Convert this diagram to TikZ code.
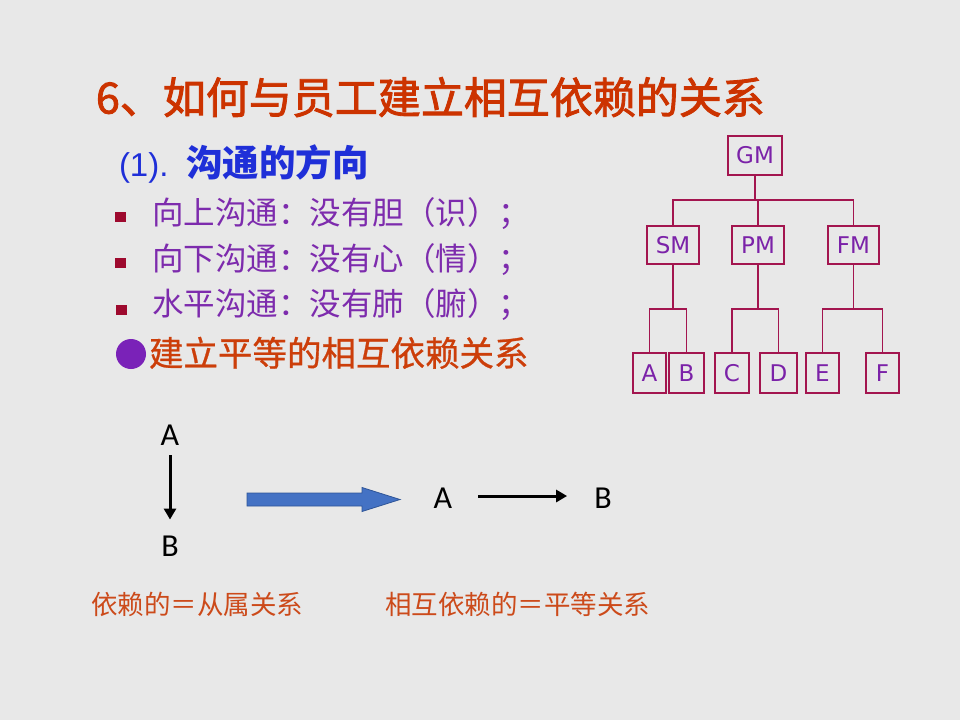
\documentclass[tikz,border=0pt]{standalone}
\usepackage{fontspec}
\setmainfont{Noto Sans CJK SC}
\newfontfamily\titlefont[FakeBold=2]{Noto Sans CJK SC}
\newfontfamily\midfont[FakeBold=0.8]{Noto Sans CJK SC}
\newfontfamily\orgfont{DejaVu Sans}
\newfontfamily\abfont{Carlito}
\newfontfamily\arialfont{Liberation Sans}
\usetikzlibrary{arrows.meta}
\definecolor{bg}{HTML}{E8E8E8}
\definecolor{titlec}{HTML}{CC3300}
\definecolor{subc}{HTML}{1F2FD8}
\definecolor{purp}{HTML}{7D2BAD}
\definecolor{sqc}{HTML}{9E0A2E}
\definecolor{circc}{HTML}{7A22B8}
\definecolor{orangec}{HTML}{CC3E0A}
\definecolor{orgline}{HTML}{A3154F}
\definecolor{orgtext}{HTML}{7B22A8}
\definecolor{bottomc}{HTML}{CC4A1A}
\definecolor{blockfill}{HTML}{4472C4}
\definecolor{blockline}{HTML}{2F5597}
\begin{document}
\begin{tikzpicture}[x=1pt,y=-1pt,
  txt/.style={anchor=base west,inner sep=0pt,outer sep=0pt},
  orgbox/.style={draw=orgline,line width=1.3pt,inner sep=0pt,text=orgtext,
    font=\orgfont\fontsize{23}{23}\selectfont,minimum height=38pt},
  orgconn/.style={draw=orgline,line width=1.3pt},
  ab/.style={inner sep=0pt,font=\abfont\fontsize{32}{32}\selectfont,text=black},
  arr/.style={draw=black,line width=3pt,-{Triangle[length=11pt,width=12pt]}},
  bullet/.style={fill=sqc}
]
\fill[bg] (0,0) rectangle (960,720);
\useasboundingbox (0,0) rectangle (960,720);

% title
\node[txt,text=titlec,font=\titlefont\fontsize{43}{43}\selectfont] (title) at (96,113.5) {6、如何与员工建立相互依赖的关系};

% subtitle
\node[txt,text=subc,font=\arialfont\fontsize{33}{33}\selectfont] (sub1) at (119,176) {(1).};
\node[txt,text=subc,font=\fontsize{36.5}{36.5}\selectfont\bfseries] (sub2) at (186,176) {沟通的方向};

% bullets
\fill[bullet] (115,212) rectangle (126,222);
\fill[bullet] (115,258) rectangle (126,268);
\fill[bullet] (116,305) rectangle (127,315);
\node[txt,text=purp,font=\fontsize{31.5}{31.5}\selectfont] (b1) at (152,224) {向上沟通：没有胆（识）；};
\node[txt,text=purp,font=\fontsize{31.5}{31.5}\selectfont] (b2) at (152,270) {向下沟通：没有心（情）；};
\node[txt,text=purp,font=\fontsize{31.5}{31.5}\selectfont] (b3) at (152,315) {水平沟通：没有肺（腑）；};

\fill[circc] (131,354) circle (15);
\node[txt,text=orangec,font=\midfont\fontsize{34.5}{34.5}\selectfont] (b4) at (149,366) {建立平等的相互依赖关系};

% org chart
\node[orgbox,minimum width=54pt,minimum height=39pt] (GM) at (755,155.5) {GM};
\node[orgbox,minimum width=52pt] (SM) at (673,245) {SM};
\node[orgbox,minimum width=52pt] (PM) at (758,245) {PM};
\node[orgbox,minimum width=51pt] (FM) at (853.5,245) {FM};
\node[orgbox,minimum width=33pt,minimum height=40pt] (A) at (649.5,373) {A};
\node[orgbox,minimum width=35pt,minimum height=40pt] (B) at (686.5,373) {B};
\node[orgbox,minimum width=34pt,minimum height=40pt] (C) at (732,373) {C};
\node[orgbox,minimum width=37pt,minimum height=40pt] (D) at (778.5,373) {D};
\node[orgbox,minimum width=33pt,minimum height=40pt] (E) at (822.5,373) {E};
\node[orgbox,minimum width=33pt,minimum height=40pt] (F) at (882.5,373) {F};
\coordinate (bar0) at (0,200);
\coordinate (bar1) at (0,309);
\draw[orgconn] (GM.south) -- (GM.south |- bar0);
\draw[orgconn] (SM.north) -- (SM.north |- bar0) -| (FM.north);
\draw[orgconn] (PM.north) -- (PM.north |- bar0);
\draw[orgconn] (SM.south) -- (SM.south |- bar1);
\draw[orgconn] (A.north) |- (SM.south |- bar1) -| (B.north);
\draw[orgconn] (PM.south) -- (PM.south |- bar1);
\draw[orgconn] (C.north) |- (PM.south |- bar1) -| (D.north);
\draw[orgconn] (FM.south) -- (FM.south |- bar1);
\draw[orgconn] (E.north) |- (FM.south |- bar1) -| (F.north);

% bottom diagram
\node[ab] (A1) at (170,435) {A};
\node[ab] (B1) at (170,546) {B};
\draw[arr,shorten <=10pt,shorten >=16pt] (A1.south) -- (B1.north);

\fill[blockfill,draw=blockline,line width=0.8pt]
  (247,493) -- (362,493) -- (362,487.5) -- (400,499.5) -- (362,511.5) -- (362,506) -- (247,506) -- cycle;

\node[ab] (A2) at (443,498) {A};
\node[ab] (B2) at (603,498) {B};
\draw[arr,shorten <=26pt,shorten >=27pt] (A2.east |- 0,496) -- (B2.west |- 0,496);

\node[txt,text=bottomc,font=\fontsize{26.5}{26.5}\selectfont] (t1) at (91,614.5) {依赖的＝从属关系};
\node[txt,text=bottomc,font=\fontsize{26.5}{26.5}\selectfont] (t2) at (385,614.5) {相互依赖的＝平等关系};
\end{tikzpicture}
\end{document}
